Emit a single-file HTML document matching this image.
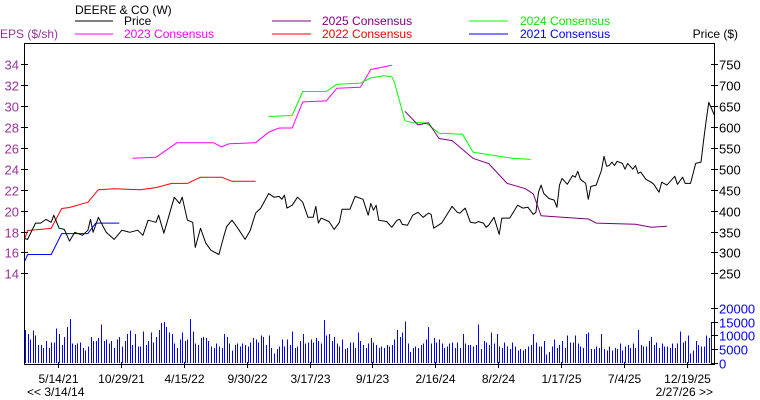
<!DOCTYPE html>
<html><head><meta charset="utf-8"><style>
body{margin:0;background:#fff;}
svg{display:block;font-family:"Liberation Sans",Arial,sans-serif;font-size:12px;}
</style></head><body>
<svg id="chart" width="760" height="400" viewBox="0 0 760 400">
<rect x="0" y="0" width="760" height="400" fill="#fff"/>
<g>
<text x="75" y="14" fill="#000">DEERE &amp; CO (W)</text>
<line x1="75" y1="21" x2="113" y2="21" stroke="#000"/>
<text x="124" y="25" fill="#000">Price</text>
<line x1="272" y1="21" x2="311" y2="21" stroke="#800080"/>
<text x="322" y="25" fill="#800080">2025 Consensus</text>
<line x1="469" y1="21" x2="508" y2="21" stroke="#00ff00"/>
<text x="520" y="25" fill="#00ee00">2024 Consensus</text>
<line x1="75" y1="34" x2="113" y2="34" stroke="#ff00ff"/>
<text x="124" y="38" fill="#ff00ff">2023 Consensus</text>
<line x1="272" y1="34" x2="311" y2="34" stroke="#ff0000"/>
<text x="322" y="38" fill="#ff0000">2022 Consensus</text>
<line x1="469" y1="34" x2="508" y2="34" stroke="#0000ff"/>
<text x="520" y="38" fill="#0000ff">2021 Consensus</text>
</g>
<text x="0" y="38" fill="#993399">EPS ($/sh)</text>
<text x="738" y="38" fill="#000" text-anchor="end">Price ($)</text>
<g id="plot"></g>
<text x="27" y="396" fill="#000">&lt;&lt; 3/14/14</text>
<text x="713" y="396" fill="#000" text-anchor="end">2/27/26 &gt;&gt;</text>
</svg>
<script>
const epsTicks=[14,16,18,20,22,24,26,28,30,32,34];
const priceTicks=[250,300,350,400,450,500,550,600,650,700,750];
const volTicks=[0,5000,10000,15000,20000];
const xTickLabels=["5/14/21","10/29/21","4/15/22","9/30/22","3/17/23","9/1/23","2/16/24","8/2/24","1/17/25","7/4/25","12/19/25"];
const xTickWeeks=[12.6,36.6,60.6,84.6,108.6,132.6,156.6,180.6,204.6,228.6,252.6];
const priceWeeks=[0,1,4,6,8,10,11,13,15,17,19,22,24,25,26,28,31,34,37,40,43,45,47,50,51,53,55,57,59,60,62,64,65,67,69,71,74,76,77,79,81,84,86,88,90,93,95,97,98,99,100,102,104,106,108,110,111,112,113,116,118,120,121,124,126,129,131,132,133,134,135,138,140,142,143,144,146,148,150,152,154,155,156,159,163,165,166,168,170,172,173,175,176,177,179,181,182,185,188,190,192,194,195,196,197,198,200,202,203,204,205,207,209,210,211,212,214,215,216,218,220,221,222,223,224,225,226,228,229,230,232,233,234,235,237,239,240,242,243,245,248,249,251,252,254,256,258,259,260,261,262,263];
const priceVals=[333,331,370,370,379,372,389,358,355,327,348,341,353,379,348,384,348,331,353,348,353,341,377,372,389,346,389,432,417,432,377,372,312,358,322,305,295,341,362,377,360,331,353,394,406,441,432,434,427,437,406,413,432,420,384,384,410,370,382,374,355,372,403,403,434,427,389,417,401,413,377,374,360,377,379,367,365,389,396,384,394,391,358,370,410,396,394,406,372,370,374,370,360,365,384,343,382,382,413,406,408,391,396,444,461,441,429,425,408,461,477,463,484,480,494,475,465,427,458,461,496,530,506,508,516,508,518,513,499,513,499,508,489,492,475,468,463,444,468,461,482,463,480,465,465,513,516,568,616,659,645,630];
const c2021Weeks=[0,1,10,14,24,27,36];
const c2021Vals=[15.2,15.8,15.8,17.8,17.8,18.8,18.8];
const c2022Weeks=[0,1,10,14,17,24,28,34,44,50,56,62,67,75,79,88];
const c2022Vals=[17.4,18.1,18.3,20.2,20.3,20.8,22.0,22.1,22.0,22.2,22.6,22.6,23.2,23.2,22.8,22.8];
const c2023Weeks=[41,50,58,72,75,78,88,93,97,102,106,115,119,128,132,136,140];
const c2023Vals=[25.0,25.1,26.5,26.5,26.1,26.4,26.5,27.5,27.9,27.9,30.4,30.5,31.7,31.8,33.5,33.7,33.9];
const c2024Weeks=[93,102,106,115,119,128,132,137,140,141,145,148,153,158,167,171,176,186,193];
const c2024Vals=[29.0,29.1,31.4,31.4,32.1,32.2,32.7,32.9,32.8,32.3,28.6,28.4,28.4,27.4,27.3,25.6,25.4,25.0,24.9];
const c2025Weeks=[145,150,154,158,163,171,177,184,191,194,197,203,215,218,233,239,245];
const c2025Vals=[29.5,28.2,28.4,26.9,26.7,25.0,24.5,22.6,22.1,21.6,19.5,19.4,19.2,18.8,18.7,18.4,18.5];
const volumes=[12,10.5,8.5,11.8,10,6.5,6.5,5.5,8,5.5,7.5,7.5,12.5,10.5,6.5,9.5,13,16,7,6.5,
7,7.5,5.5,4.5,6,9.5,8,8,9,14,8,8.5,7,8,5.5,8.5,9.5,6,8,10.5,
11.8,6.5,10.5,6,6,11.5,6.5,8,11,7.5,9.5,12,14.5,14.8,13,11,10.5,7,5.5,8.5,
11,8,8.5,16,11.5,7,6.5,9,9.5,9,8,6,5.5,7,6,5.5,10.5,9.5,7,4.5,
6.5,7,6,7,6.5,6,7.5,9,8.5,7.5,10,9.5,6.5,10,5.5,3.5,5,6,8.5,6,
8.5,6.5,11.5,5.5,6,8,10.5,7,7.5,8.5,7.5,9,8,7,15.5,10,10.5,8,9.5,7,
6,8.5,5,5.5,7.5,7.5,5.5,11,8,6.5,5.5,7,9,7.5,6.5,5.5,6,5.5,6.5,6,
6.5,8.5,12,9.5,11,15,7,4,5.5,6,5.5,6.5,7,8.5,13,7,9,7.5,8.5,7,
5.5,6,7,7.5,5.5,7.5,5.5,10.5,7,6.5,6.5,6,6.5,14,5,8,7.5,6.5,11,7,
10.5,6,5.5,7.5,6,5,7.5,6,4.5,5,4.5,5,6,6.5,10.5,7.5,6,6,8,3,
4,6,8.5,5.5,6.5,8,5.5,10,7.5,7.5,10,7,6,5.5,10.5,11,5,5,6,5.5,
10.5,5,4.5,6,4.5,5.5,5,7,4.5,6,6.5,5.5,7,5.5,12,6.5,6,6,8,9.5,
6.5,7.5,5.5,7,6,6,5.5,7,5.5,7,11.5,7.5,8,10,3.5,4.5,8,6.5,6,6,
10,9,14.5,9];

const L=24,R=714,T=43,B=364;
const xW=w=>25+w*2.62;
const yE=e=>64.3+(34-e)*10.45;
const yP=p=>64.3+(750-p)*0.418;
const yV=v=>363-v*0.00276;
const NS='http://www.w3.org/2000/svg';
const plot=document.getElementById('plot');
function mk(tag,attrs,parent){const el=document.createElementNS(NS,tag);for(const k in attrs)el.setAttribute(k,attrs[k]);(parent||plot).appendChild(el);return el;}

const vg=mk('g',{});


volumes.forEach((v,i)=>{
  const x=Math.round(xW(i))+0.5;
  const b=mk('line',{x1:x,x2:x,y1:363,y2:yV(v*1000),stroke:'#0000ff','stroke-width':1,'shape-rendering':'crispEdges'},vg);
  
  
});

const fr=mk('rect',{x:L+0.5,y:T+0.5,width:R-L,height:B-T,fill:'none',stroke:'#000','stroke-width':1,'shape-rendering':'crispEdges'});



epsTicks.forEach(e=>{
  const y=Math.round(yE(e))+0.5;
  const t=mk('line',{x1:L-3,x2:L+4,y1:y,y2:y,stroke:'#000','shape-rendering':'crispEdges'});
  
  
  const l=mk('text',{x:L-5,y:y+5,'text-anchor':'end',fill:'#993399','font-size':'13'});
  l.textContent=e;
  
  
});
priceTicks.forEach(p=>{
  const y=Math.round(yP(p))+0.5;
  const t=mk('line',{x1:R-3,x2:R+4,y1:y,y2:y,stroke:'#000','shape-rendering':'crispEdges'});
  
  
  const l=mk('text',{x:R+5,y:y+5,fill:'#000','font-size':'13'});
  l.textContent=p;
  
  
});
volTicks.forEach(v=>{
  const y=Math.round(yV(v))+0.5;
  const t=mk('line',{x1:R-3,x2:R+4,y1:y,y2:y,stroke:'#000','shape-rendering':'crispEdges'});
  
  
  const l=mk('text',{x:R+5,y:y+5,fill:'#0000ff','font-size':'13'});
  l.textContent=v;
  
  
});
xTickWeeks.forEach((w,i)=>{
  const x=Math.round(xW(w))+0.5;
  const t=mk('line',{x1:x,x2:x,y1:B-2,y2:B+4,stroke:'#000','shape-rendering':'crispEdges'});
  
  
  const l=mk('text',{x:x,y:383,'text-anchor':'middle',fill:'#000'});
  l.textContent=xTickLabels[i];
  
  
});

function line(ws,vs,yf,color,name){
  const d=ws.map((w,i)=>(i?'L':'M')+xW(w).toFixed(1)+' '+yf(vs[i]).toFixed(1)).join(' ');
  const p=mk('path',{d:d,fill:'none',stroke:color,'stroke-width':1,'stroke-linejoin':'round'});
  
  
}
line(c2021Weeks,c2021Vals,yE,'#0000ff','consensus-2021-line');
line(c2022Weeks,c2022Vals,yE,'#ff0000','consensus-2022-line');
line(c2023Weeks,c2023Vals,yE,'#ff00ff','consensus-2023-line');
line(c2024Weeks,c2024Vals,yE,'#00ff00','consensus-2024-line');
line(c2025Weeks,c2025Vals,yE,'#800080','consensus-2025-line');
line(priceWeeks,priceVals,yP,'#000000','price-line');
</script>
</body></html>
